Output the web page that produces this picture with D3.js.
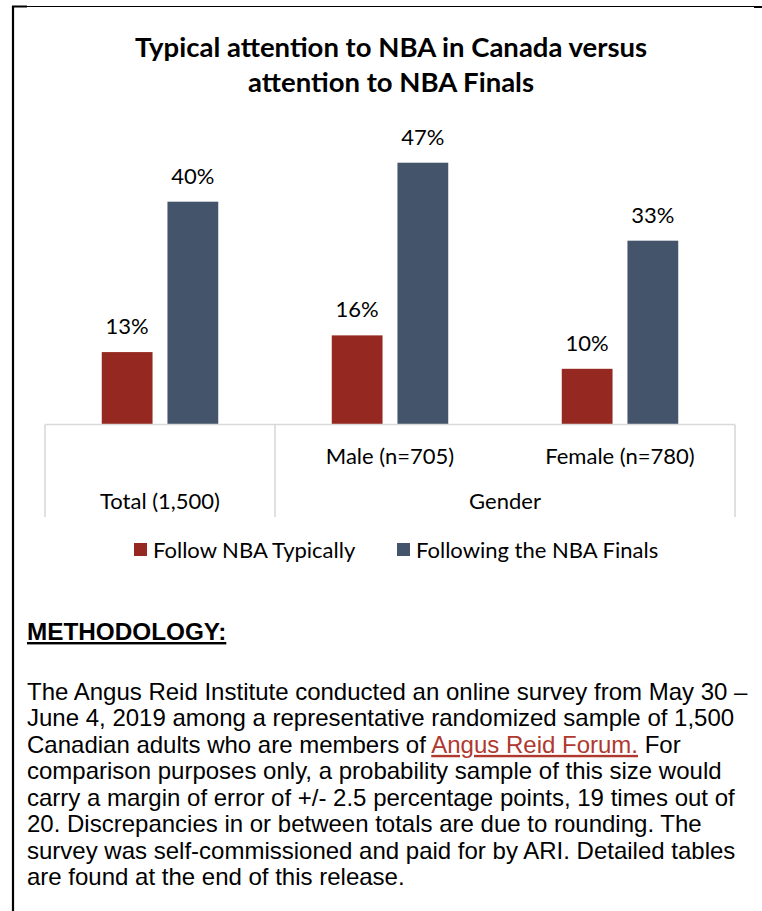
<!DOCTYPE html>
<html>
<head>
<meta charset="utf-8">
<script src="https://cdn.jsdelivr.net/npm/d3@7"></script>
<style>
  html, body { margin: 0; padding: 0; background: #fff; }
  svg { display: block; }
</style>
</head>
<body>
<svg id="chart" width="762" height="911"></svg>
<script>
// ---- data ----
const categories = ["Total (1,500)", "Male (n=705)", "Female (n=780)"];
const groupLabels = ["", "Gender"];
const series = ["Follow NBA Typically", "Following the NBA Finals"];
const followTypically = [13, 16, 10];
const followFinals = [40, 47, 33];
const titleLines = ["Typical attention to NBA in Canada versus", "attention to NBA Finals"];
const methodologyLines = [
  "The Angus Reid Institute conducted an online survey from May 30 –",
  "June 4, 2019 among a representative randomized sample of 1,500",
  "Canadian adults who are members of |Angus Reid Forum.| For",
  "comparison purposes only, a probability sample of this size would",
  "carry a margin of error of +/- 2.5 percentage points, 19 times out of",
  "20. Discrepancies in or between totals are due to rounding. The",
  "survey was self-commissioned and paid for by ARI. Detailed tables",
  "are found at the end of this release."
];

const colors = { [series[0]]: "#952821", [series[1]]: "#44546a" };
const calibri = "Lato, 'Open Sans', sans-serif";
const arial = "'Liberation Sans', Arial, sans-serif";
const labelSize = 22;

const svg = d3.select("#chart");

// frame
svg.append("line").attr("x1", 13).attr("x2", 13).attr("y1", 6).attr("y2", 911)
  .attr("stroke", "#000").attr("stroke-width", 2.2);
svg.append("line").attr("x1", 12).attr("x2", 762).attr("y1", 6.5).attr("y2", 6.5)
  .attr("stroke", "#000").attr("stroke-width", 1.2);
svg.append("line").attr("x1", 12).attr("x2", 27).attr("y1", 6.5).attr("y2", 6.5)
  .attr("stroke", "#000").attr("stroke-width", 2);
svg.append("line").attr("x1", 754).attr("x2", 762).attr("y1", 7).attr("y2", 7)
  .attr("stroke", "#000").attr("stroke-width", 2);

// title
svg.append("text").attr("x", 391).attr("y", 57)
  .attr("text-anchor", "middle").attr("font-family", calibri).attr("font-weight", 700)
  .attr("font-size", 27.5).attr("fill", "#000").text(titleLines[0]);
svg.append("text").attr("x", 391).attr("y", 92)
  .attr("text-anchor", "middle").attr("font-family", calibri).attr("font-weight", 700)
  .attr("font-size", 27.5).attr("fill", "#000").text(titleLines[1]);

// scales
const x0 = d3.scaleBand().domain(categories).range([45, 735]).padding(0);
const x1 = d3.scaleBand().domain(series).range([0, x0.bandwidth()])
  .paddingInner(0.227).paddingOuter(0.864);
const y = d3.scaleLinear().domain([0, 50]).range([424.5, 146]);

const data = categories.map((c, i) => ({
  cat: c,
  vals: [
    { s: series[0], v: followTypically[i] },
    { s: series[1], v: followFinals[i] }
  ]
}));

const g = svg.append("g");
const groups = g.selectAll("g.grp").data(data).enter().append("g")
  .attr("transform", d => `translate(${x0(d.cat)},0)`);

groups.selectAll("rect").data(d => d.vals).enter().append("rect")
  .attr("x", d => x1(d.s))
  .attr("width", x1.bandwidth())
  .attr("y", d => y(d.v))
  .attr("height", d => y(0) - y(d.v))
  .attr("fill", d => colors[d.s]);

groups.selectAll("text.lbl").data(d => d.vals).enter().append("text")
  .attr("class", "lbl")
  .attr("x", d => x1(d.s) + x1.bandwidth() / 2)
  .attr("y", d => y(d.v) - 18)
  .attr("text-anchor", "middle")
  .attr("font-family", calibri).attr("font-size", labelSize).attr("fill", "#000")
  .text(d => d.v + "%");

// axis (multi-level category)
const gridCol = "#d9d9d9";
svg.append("line").attr("x1", 45).attr("x2", 735).attr("y1", y(0)).attr("y2", y(0))
  .attr("stroke", gridCol).attr("stroke-width", 1.6);
const seps = [x0.range()[0], x0(categories[1]), x0.range()[1]];
svg.selectAll("line.sep").data(seps).enter().append("line")
  .attr("x1", d => d).attr("x2", d => d).attr("y1", y(0)).attr("y2", 517)
  .attr("stroke", gridCol).attr("stroke-width", 1.6);

// level-1 labels (Male/Female)
svg.selectAll("text.cat").data(categories.slice(1)).enter().append("text")
  .attr("x", d => x0(d) + x0.bandwidth() / 2).attr("y", 464)
  .attr("text-anchor", "middle").attr("font-family", calibri).attr("font-size", labelSize)
  .attr("fill", "#000").text(d => d);
// level-2 labels
svg.append("text").attr("x", x0(categories[0]) + x0.bandwidth() / 2).attr("y", 509)
  .attr("text-anchor", "middle").attr("font-family", calibri).attr("font-size", labelSize)
  .attr("fill", "#000").text(categories[0]);
svg.append("text").attr("x", (x0(categories[1]) + x0.range()[1]) / 2).attr("y", 509)
  .attr("text-anchor", "middle").attr("font-family", calibri).attr("font-size", labelSize)
  .attr("fill", "#000").text(groupLabels[1]);

// legend
const legendX = [134, 397];
series.forEach((s, i) => {
  svg.append("rect").attr("x", legendX[i]).attr("y", 543).attr("width", 13).attr("height", 13)
    .attr("fill", colors[s]);
  svg.append("text").attr("x", legendX[i] + 19).attr("y", 558)
    .attr("font-family", calibri).attr("font-size", labelSize).attr("fill", "#000").text(s);
});

// methodology
svg.append("text").attr("x", 27).attr("y", 640)
  .attr("font-family", arial).attr("font-weight", 700).attr("font-size", 24.3)
  .attr("text-decoration", "underline").attr("fill", "#000").text("METHODOLOGY:");

methodologyLines.forEach((line, i) => {
  const t = svg.append("text").attr("x", 27).attr("y", 700 + i * 26.43)
    .attr("font-family", arial).attr("font-size", 24).attr("fill", "#000");
  line.split("|").forEach((part, j) => {
    const ts = t.append("tspan").text(part);
    if (j === 1) ts.attr("fill", "#b0392e").attr("text-decoration", "underline");
  });
});
</script>
</body>
</html>
